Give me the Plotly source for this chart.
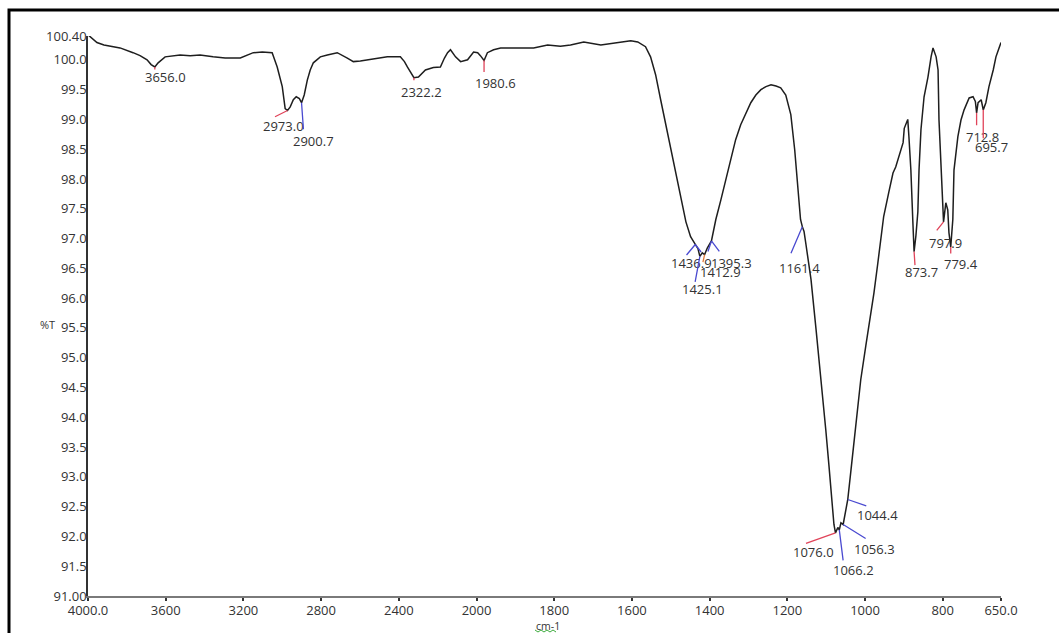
import numpy as np
import plotly.graph_objects as go

# FTIR spectrum: wavenumber (cm-1) and transmittance (%T)
wavenumber = [
    4000, 3954, 3918, 3871, 3835, 3768, 3732, 3696, 3675, 3656.0, 3639, 3603,
    3567, 3526, 3474, 3423, 3356, 3294, 3216, 3149, 3103, 3077, 3052, 3026,
    3000, 2985, 2973.0, 2959, 2943, 2928, 2912, 2900.7, 2887, 2871, 2856, 2840,
    2804, 2768, 2717, 2665, 2634, 2598, 2562, 2510, 2459, 2392, 2371, 2356,
    2335, 2322.2, 2299, 2263, 2222, 2186, 2165, 2149, 2134, 2108, 2082, 2046,
    2015, 1997, 1990, 1980.6, 1972, 1956, 1938, 1887, 1853, 1817, 1784, 1758,
    1724, 1680, 1637, 1603, 1585, 1565, 1552, 1539, 1526, 1513, 1500, 1487,
    1474, 1461, 1449, 1436.9, 1430, 1425.1, 1419, 1412.9, 1406, 1395.3, 1392,
    1384, 1371, 1358, 1346, 1333, 1320, 1307, 1294, 1281, 1268, 1255, 1242,
    1229, 1217, 1204, 1191, 1181, 1173, 1166, 1161.4, 1157, 1152, 1139, 1126,
    1113, 1101, 1093, 1085, 1080, 1076.0, 1070, 1066.2, 1062, 1056.3, 1053,
    1049, 1044.4, 1036, 1023, 1011, 998, 986, 977, 967, 959, 952, 939, 928,
    921, 913, 908, 902, 899, 894, 890, 887, 882, 877, 873.7, 869, 864, 861,
    856, 848, 838, 830, 825, 817, 812, 809.6, 804.5, 800, 797.9, 792, 787, 784,
    779.4, 774, 771, 761, 753, 745, 732, 722, 716, 712.8, 709, 701, 695.7, 689,
    681, 670, 663, 655, 650,
]
transmittance = [
    100.42, 100.29, 100.25, 100.22, 100.20, 100.12, 100.07, 100.00, 99.92, 99.88, 99.95, 100.05,
    100.07, 100.08, 100.07, 100.08, 100.05, 100.03, 100.03, 100.12, 100.13, 100.13, 100.12, 99.88,
    99.55, 99.18, 99.15, 99.21, 99.33, 99.38, 99.35, 99.28, 99.41, 99.66, 99.83, 99.95,
    100.05, 100.08, 100.12, 100.03, 99.97, 99.98, 100.00, 100.03, 100.05, 100.05, 99.97, 99.88,
    99.77, 99.70, 99.71, 99.83, 99.87, 99.88, 100.03, 100.12, 100.17, 100.05, 99.97, 100.00,
    100.13, 100.12, 100.07, 99.99, 100.12, 100.17, 100.20, 100.20, 100.20, 100.25, 100.23, 100.25,
    100.30, 100.25, 100.29, 100.32, 100.30, 100.22, 100.05, 99.75, 99.33, 98.91, 98.49, 98.07,
    97.65, 97.28, 97.03, 96.90, 96.83, 96.70, 96.76, 96.73, 96.84, 96.96, 97.08,
    97.32, 97.65, 97.99, 98.32, 98.66, 98.91, 99.11, 99.28, 99.41, 99.50, 99.55, 99.58,
    99.56, 99.53, 99.41, 99.08, 98.49, 97.82, 97.32, 97.20, 97.12, 96.90, 96.31, 95.47,
    94.63, 93.79, 93.20, 92.62, 92.20, 92.06, 92.15, 92.11, 92.23, 92.20, 92.32,
    92.45, 92.62, 93.12, 93.96, 94.63, 95.20, 95.69, 96.09, 96.59, 97.03, 97.37, 97.77, 98.10,
    98.20, 98.37, 98.46, 98.61, 98.85, 98.95, 99.00, 98.71, 98.15, 97.30, 96.78, 97.05, 97.45, 98.15,
    98.83, 99.38, 99.71, 100.05, 100.20, 100.05, 99.83, 98.99, 98.15, 97.45, 97.28, 97.60, 97.48, 97.10,
    96.86, 97.32, 98.15, 98.71, 98.99, 99.16, 99.36, 99.38, 99.30, 99.11, 99.28, 99.33, 99.16, 99.28,
    99.55, 99.83, 100.05, 100.20, 100.29,
]

# Picked peaks and the colour of their markers
peak_wn = [3656.0, 2973.0, 2900.7, 2322.2, 1980.6, 1436.9, 1425.1, 1412.9, 1395.3,
           1161.4, 1076.0, 1066.2, 1056.3, 1044.4, 873.7, 797.9, 779.4, 712.8, 695.7]
peak_kind = ["r", "r", "b", "r", "r", "b", "b", "o", "b",
             "b", "r", "b", "b", "b", "r", "r", "r", "r", "r"]

# Axis ticks
x_tick_wn = [4000, 3600, 3200, 2800, 2400, 2000, 1800, 1600, 1400, 1200, 1000, 800, 650]
x_tick_text = ["4000.0", "3600", "3200", "2800", "2400", "2000", "1800", "1600",
               "1400", "1200", "1000", "800", "650.0"]
y_tick_vals = [100.4, 100.0, 99.5, 99.0, 98.5, 98.0, 97.5, 97.0, 96.5, 96.0, 95.5,
               95.0, 94.5, 94.0, 93.5, 93.0, 92.5, 92.0, 91.5, 91.0]
y_tick_text = ["100.40", "100.0", "99.5", "99.0", "98.5", "98.0", "97.5", "97.0", "96.5",
               "96.0", "95.5", "95.0", "94.5", "94.0", "93.5", "93.0", "92.5", "92.0",
               "91.5", "91.00"]

# Label placement (pixels): text centre offset and leader-line tails, y downwards
label_layout = {
    3656.0: ((11, 10), [(0, 4)]),
    2973.0: ((-4, 16), [(-14, 7)]),
    2900.7: ((12, 38), [(2, 28)]),
    2322.2: ((8, 14), [(0, 4)]),
    1980.6: ((11, 23), [(0, 13)]),
    1436.9: ((-4, 18), [(-10, 12), (7, 9)]),
    1425.1: ((3, 33), [(-5, 27)]),
    1412.9: ((16, 17), [(-2, 9)]),
    1395.3: ((20, 22), [(-4, 12), (9, 12)]),
    1161.4: ((-3, 41), [(-12, 28)]),
    1076.0: ((-22, 19), [(-31, 11)]),
    1066.2: ((14, 40), [(4, 32)]),
    1056.3: ((31, 24), [(24, 15)]),
    1044.4: ((30, 16), [(20, 7)]),
    873.7: ((7, 20), [(1, 15)]),
    797.9: ((2, 21), [(-8, 10)]),
    779.4: ((10, 17), [(0, 8)]),
    712.8: ((6, 24), [(0, 14)]),
    695.7: ((8, 37), [(0, 30)]),
}
kind_color = {"r": "#e0445a", "b": "#4a4ad0", "o": "#e07a3a"}


def axis_pos(w):
    """Instrument x scale: 4000-2000 cm-1 compressed, below 2000 cm-1 doubled."""
    w = np.asarray(w, dtype=float)
    return np.where(w >= 2000, 4000 - w, 2000 + 2 * (2000 - w))


xs = axis_pos(wavenumber)
ys = np.asarray(transmittance)

fig = go.Figure()
fig.add_trace(go.Scatter(x=xs, y=ys, mode="lines",
                         line=dict(color="#1e1e1e", width=1.5),
                         hoverinfo="skip", showlegend=False))

font_txt = dict(family="Open Sans", size=13, color="#333333")
annotations = []
peak_x = axis_pos(peak_wn)
peak_y = np.interp(peak_x, xs, ys)
for wn, kind, px, py in zip(peak_wn, peak_kind, peak_x, peak_y):
    (tdx, tdy), lines = label_layout[wn]
    for ldx, ldy in lines:
        annotations.append(dict(x=px, y=py, xref="x", yref="y", text="",
                                showarrow=True, arrowhead=0, arrowwidth=1.3,
                                arrowcolor=kind_color[kind], ax=ldx, ay=ldy,
                                standoff=0, startstandoff=0))
    annotations.append(dict(x=px, y=py, xref="x", yref="y", text=f"{wn:.1f}",
                            showarrow=False, xshift=tdx, yshift=-tdy,
                            xanchor="center", yanchor="middle", font=font_txt))

# Plot-area geometry in pixels (used to place the paper-referenced decorations)
W, H = 1059, 633
L, R, T, B = 88, 58, 36, 37
pw, ph = W - L - R, H - T - B


def px_to_paper(px, py):
    return (px - L) / pw, (H - B - py) / ph


# Axis titles
tx, ty = px_to_paper(47, 325)
annotations.append(dict(x=tx, y=ty, xref="paper", yref="paper", text="%T",
                        showarrow=False, xanchor="center", yanchor="middle",
                        font=dict(family="Open Sans", size=11, color="#333333")))
cx, cy = px_to_paper(548, 626)
annotations.append(dict(x=cx, y=cy, xref="paper", yref="paper", text="cm-1",
                        showarrow=False, xanchor="center", yanchor="middle",
                        borderpad=0,
                        font=dict(family="Open Sans", size=10.5, color="#333333")))

shapes = []
# Frame around the figure
fx0, fy1 = px_to_paper(9, 10)
shapes.append(dict(type="rect", xref="paper", yref="paper", x0=fx0, x1=1.3,
                   y0=-0.3, y1=fy1, line=dict(color="black", width=3),
                   fillcolor="rgba(0,0,0,0)", layer="above"))
# Wavy underline under the unit
pts = []
for i, xp in enumerate(range(535, 559, 3)):
    pts.append(px_to_paper(xp, 631 + (1.0 if i % 2 else -1.0)))
path = "M " + " L ".join(f"{a:.5f},{b:.5f}" for a, b in pts)
shapes.append(dict(type="path", xref="paper", yref="paper", path=path,
                   line=dict(color="#3caa3c", width=1)))

fig.update_layout(
    width=W, height=H,
    margin=dict(l=L, r=R, t=T, b=B, pad=0),
    paper_bgcolor="white", plot_bgcolor="white",
    showlegend=False,
    annotations=annotations,
    shapes=shapes,
    xaxis=dict(range=[0, float(axis_pos(650))], tickvals=axis_pos(x_tick_wn).tolist(),
               ticktext=x_tick_text, showgrid=False, zeroline=False,
               showline=True, linecolor="#7a7a7a", linewidth=2,
               ticks="outside", ticklen=3, tickwidth=1.5, tickcolor="#333333",
               ticklabelstandoff=-2, tickfont=font_txt),
    yaxis=dict(range=[91.0, 100.4], tickvals=y_tick_vals, ticktext=y_tick_text,
               showgrid=False, zeroline=False, showline=True,
               linecolor="#333333", linewidth=1.5, ticks="",
               ticklabelstandoff=-3, tickfont=font_txt),
)

fig.write_html("out.html")
